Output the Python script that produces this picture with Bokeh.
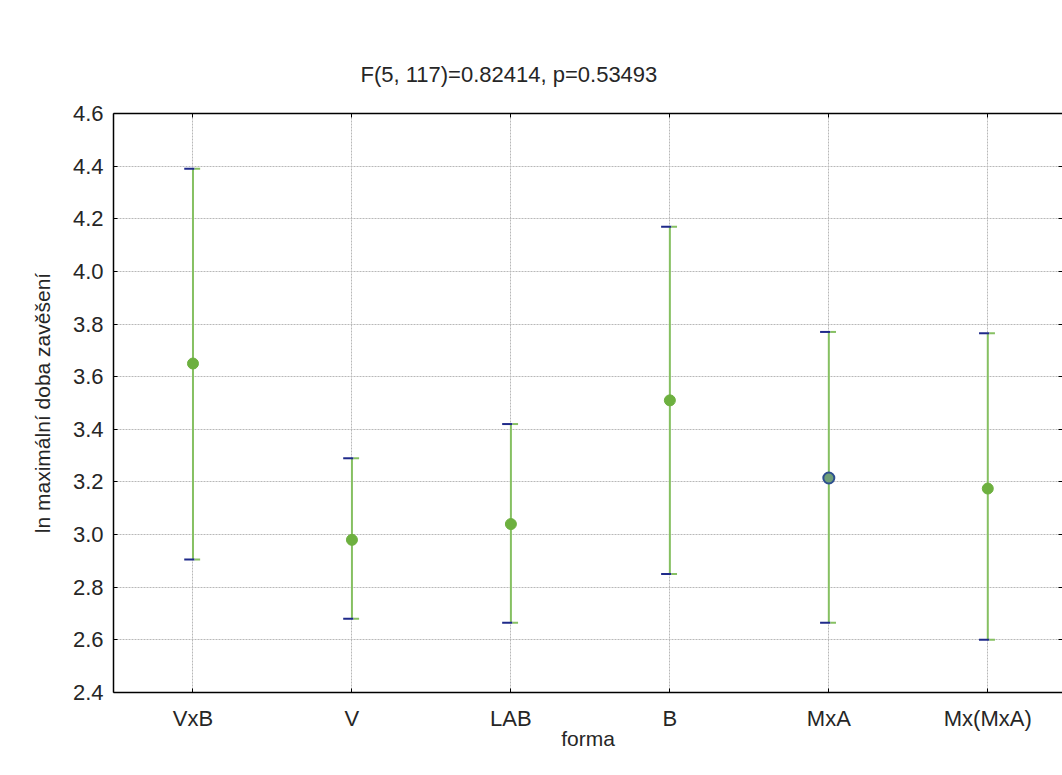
from bokeh.plotting import figure
from bokeh.models import (LinearAxis, FixedTicker, Title, ColumnDataSource, Range1d)
from bokeh.embed import file_html
from bokeh.resources import INLINE

categories = ["VxB", "V", "LAB", "B", "MxA", "Mx(MxA)"]
means = [3.65, 2.98, 3.04, 3.51, 3.215, 3.175]
upper = [4.39, 3.29, 3.42, 4.17, 3.77, 3.765]
lower = [2.905, 2.68, 2.665, 2.85, 2.665, 2.60]
y_ticks = [2.4, 2.6, 2.8, 3.0, 3.2, 3.4, 3.6, 3.8, 4.0, 4.2, 4.4, 4.6]
title_text = "F(5, 117)=0.82414, p=0.53493"
x_label = "forma"
y_label = "ln maximální doba zavěšení"
highlight = "MxA"

FONT = "Liberation Sans"
GREEN_LINE = "#86c062"
GREEN_PT = "#6db03f"
NAVY = "#1f2a8a"
TXT = "#262626"

xs = list(range(len(categories)))

p = figure(width=1062, height=775, output_backend="svg", toolbar_location=None,
           x_range=Range1d(-0.5, 5.47), y_range=Range1d(2.4, 4.6),
           min_border_left=113, min_border_top=113, min_border_bottom=83,
           min_border_right=0)
p.background_fill_color = "white"
p.border_fill_color = "white"
p.outline_line_color = None

# axes
p.xaxis.ticker = FixedTicker(ticks=xs)
p.xaxis.major_label_overrides = {i: c for i, c in enumerate(categories)}
p.yaxis.ticker = FixedTicker(ticks=y_ticks)
p.yaxis.major_label_overrides = {t: f"{t:.1f}" for t in y_ticks}
for ax in (p.xaxis[0], p.yaxis[0]):
    ax.major_label_text_font = FONT
    ax.major_label_text_font_size = "22px"
    ax.major_label_text_color = TXT
    ax.axis_label_text_font = FONT
    ax.axis_label_text_font_size = "21px"
    ax.axis_label_text_font_style = "normal"
    ax.axis_label_text_color = TXT
    ax.axis_line_color = "black"
    ax.axis_line_width = 1.5
    ax.major_tick_in = 4
    ax.major_tick_out = 0
    ax.minor_tick_line_color = None
    ax.major_tick_line_color = "black"
p.xaxis.axis_label = x_label
p.yaxis.axis_label = y_label
p.xaxis.major_label_standoff = 13
p.xaxis.axis_label_standoff = -7
p.yaxis.major_label_standoff = 10
p.yaxis.axis_label_standoff = 16

right = LinearAxis(ticker=FixedTicker(ticks=y_ticks),
                   major_label_overrides={t: "" for t in y_ticks},
                   major_tick_in=4, major_tick_out=0, minor_tick_line_color=None,
                   axis_line_color=None, major_label_standoff=0)
p.add_layout(right, "right")
top = LinearAxis(ticker=FixedTicker(ticks=xs),
                 major_label_overrides={i: "" for i in xs},
                 major_tick_in=4, major_tick_out=0, minor_tick_line_color=None,
                 axis_line_color="black", axis_line_width=1.5, major_label_standoff=0)
p.add_layout(top, "above")

# grid
p.xgrid.ticker = FixedTicker(ticks=xs)
p.ygrid.ticker = FixedTicker(ticks=y_ticks)
for g in (p.xgrid[0], p.ygrid[0]):
    g.grid_line_color = "#b8b8b8"
    g.grid_line_dash = "2 1"
    g.grid_line_width = 1

src = ColumnDataSource(dict(x=xs, m=means, u=upper, l=lower,
                            cl=[x - 0.055 for x in xs], cm=[x + 0.01 for x in xs],
                            cr=[x + 0.045 for x in xs]))

p.segment(x0="x", y0="l", x1="x", y1="u", source=src, line_color=GREEN_LINE, line_width=2)
# caps: navy left part, green right part
p.segment(x0="cl", y0="u", x1="cm", y1="u", source=src, line_color=NAVY, line_width=2)
p.segment(x0="cm", y0="u", x1="cr", y1="u", source=src, line_color=GREEN_LINE, line_width=2)
p.segment(x0="cl", y0="l", x1="cm", y1="l", source=src, line_color=NAVY, line_width=2)
p.segment(x0="cm", y0="l", x1="cr", y1="l", source=src, line_color=GREEN_LINE, line_width=2)

normal = [i for i, c in enumerate(categories) if c != highlight]
hl = [i for i, c in enumerate(categories) if c == highlight]
p.scatter([xs[i] for i in normal], [means[i] for i in normal], size=11,
          fill_color=GREEN_PT, line_color=GREEN_PT)
p.scatter([xs[i] for i in hl], [means[i] for i in hl], size=11,
          fill_color="#6f9f78", line_color="#2d4f8f", line_width=2)

t = Title(text=title_text, align="left", offset=247, text_font=FONT,
          text_font_size="22px", text_font_style="normal", text_color=TXT,
          standoff=53)
p.add_layout(t, "above")

open("out.html", "w").write(file_html(p, INLINE))
